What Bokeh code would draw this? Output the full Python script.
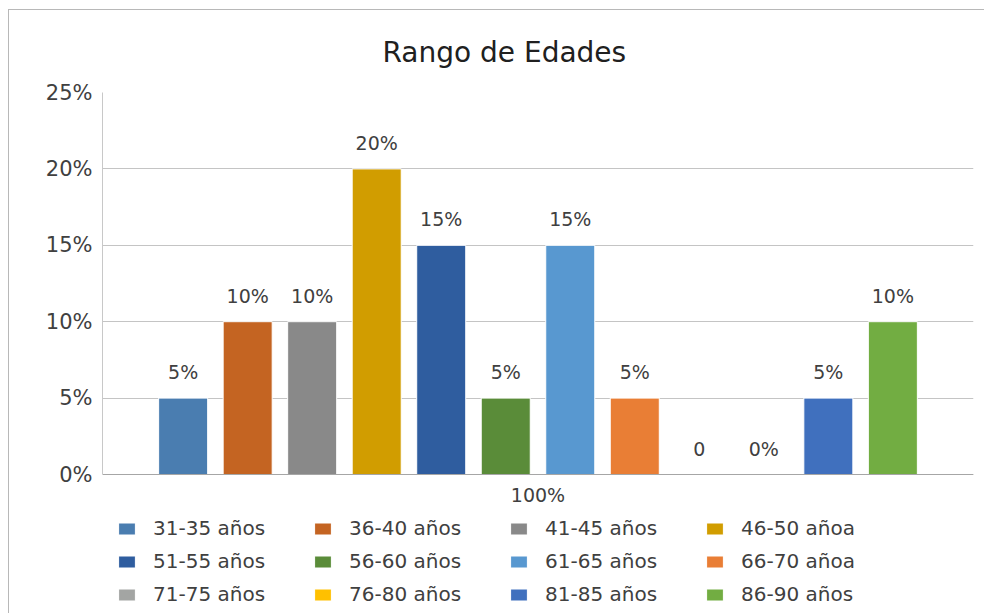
from bokeh.plotting import figure
from bokeh.models import (ColumnDataSource, FixedTicker, Legend, LegendItem,
                          Range1d, Title)
from bokeh.core.properties import value
from bokeh.embed import file_html
from bokeh.resources import INLINE

# ---- data ----
categories = ["31-35 años", "36-40 años", "41-45 años", "46-50 añoa",
              "51-55 años", "56-60 años", "61-65 años", "66-70 añoa",
              "71-75 años", "76-80 años", "81-85 años", "86-90 años"]
values = [0.05, 0.10, 0.10, 0.20, 0.15, 0.05, 0.15, 0.05, 0.0, 0.0, 0.05, 0.10]
bar_labels = ["5%", "10%", "10%", "20%", "15%", "5%", "15%", "5%",
              "0", "0%", "5%", "10%"]
colors = ["#4a7db0", "#c46422", "#898989", "#d19d00", "#2f5d9f", "#5a8c39",
          "#5898d0", "#e97e35", "#a3a5a3", "#ffc000", "#4070be", "#72ad42"]
y_ticks = [0.0, 0.05, 0.10, 0.15, 0.20, 0.25]
y_tick_labels = ["0%", "5%", "10%", "15%", "20%", "25%"]
group_label = "100%"
title_text = "Rango de Edades"

FONT = "DejaVu Sans"
positions = list(range(len(categories)))
center = (positions[0] + positions[-1]) / 2

# plot area: 382 px for 0..25 %, plus 139 px below zero reserved for the legend
PLOT_PX = 382
LEGEND_PX = 139
y_max = y_ticks[-1]
y_min = -y_max * LEGEND_PX / PLOT_PX

p = figure(frame_width=871, frame_height=PLOT_PX + LEGEND_PX, output_backend="svg",
           toolbar_location=None, x_range=Range1d(-1.25, 12.25),
           y_range=Range1d(y_min, y_max), min_border_left=93, min_border_top=79,
           min_border_right=12, min_border_bottom=0, title=None)
p.styles = {"border-top": "1px solid #b8b8b8", "border-left": "1px solid #b8b8b8",
            "margin-top": "9px", "margin-left": "8px"}
p.outline_line_color = None
p.background_fill_color = "white"
p.border_fill_color = "white"

renderers = []
for i, (cat, val, col) in enumerate(zip(categories, values, colors)):
    src = ColumnDataSource(dict(x=[positions[i]], top=[val]))
    r = p.vbar(x="x", top="top", bottom=0, width=0.76, source=src,
               fill_color=col, line_color="white", line_width=1)
    renderers.append(r)

p.text(x=positions, y=values, text=bar_labels, text_align="center",
       text_baseline="alphabetic", y_offset=-26, text_font_size="19px",
       text_color="#404040", text_font=value(FONT))

# axes
p.yaxis.ticker = FixedTicker(ticks=y_ticks)
p.yaxis.bounds = (y_ticks[0], y_ticks[-1])
p.yaxis.major_label_overrides = {t: l for t, l in zip(y_ticks, y_tick_labels)}
p.yaxis.major_label_text_font = FONT
p.yaxis.major_label_text_font_size = "21px"
p.yaxis.major_label_text_color = "#404040"
p.yaxis.major_tick_line_color = None
p.yaxis.major_tick_out = 0
p.yaxis.major_tick_in = 0
p.yaxis.minor_tick_line_color = None
p.yaxis.axis_line_color = "#c8c8c8"
p.yaxis.major_label_standoff = 10

p.xaxis.ticker = FixedTicker(ticks=[center])
p.xaxis.fixed_location = 0
p.xaxis.major_label_overrides = {center: group_label}
p.xaxis.major_label_text_font = FONT
p.xaxis.major_label_text_font_size = "19px"
p.xaxis.major_label_text_color = "#404040"
p.xaxis.major_tick_line_color = None
p.xaxis.major_tick_out = 0
p.xaxis.major_tick_in = 0
p.xaxis.minor_tick_line_color = None
p.xaxis.axis_line_color = "#a6a6a6"
p.xaxis.major_label_standoff = 9

p.xgrid.grid_line_color = None
p.ygrid.ticker = FixedTicker(ticks=y_ticks)
p.ygrid.grid_line_color = "#c4c4c4"

# title
t = Title(text=title_text, align="left", offset=280, standoff=47,
          text_font=FONT, text_font_size="28px", text_font_style="normal",
          text_color="#202020")
p.add_layout(t, "above")

# legend
items = [LegendItem(label=c, renderers=[r]) for c, r in zip(categories, renderers)]
legend = Legend(items=items, ncols=4, orientation="horizontal",
                location=(14, 7), glyph_width=21, glyph_height=15,
                label_standoff=16, label_width=150, spacing=9,
                padding=8, margin=0, border_line_color=None,
                label_text_font=FONT, label_text_font_size="20px",
                label_text_color="#404040", background_fill_alpha=0)
p.add_layout(legend, "center")

open("out.html", "w").write(file_html(p, INLINE))
